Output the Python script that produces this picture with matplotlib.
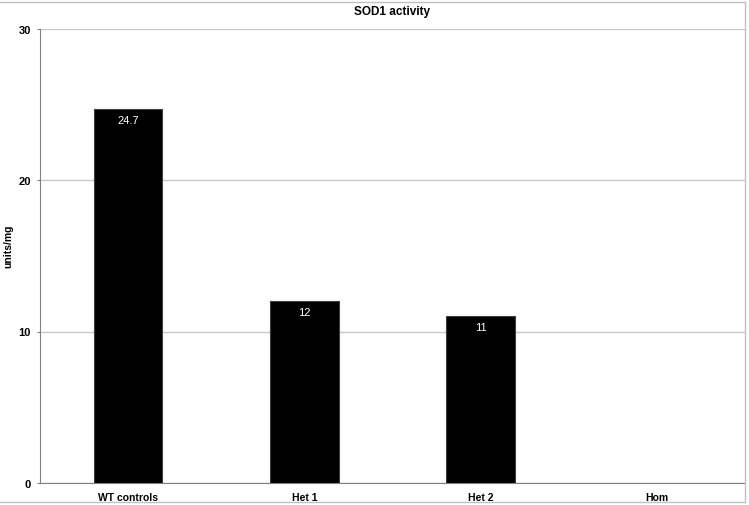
import numpy as np
import matplotlib.pyplot as plt
from matplotlib.lines import Line2D

plt.rcParams['font.family'] = ['Liberation Sans', 'DejaVu Sans']

# data
groups = ["WT controls", "Het 1", "Het 2", "Hom"]
activity = [24.7, 12, 11, 0]
bar_labels = ["24.7", "12", "11", ""]
yticks = [0, 10, 20, 30]

W, H = 749, 506
fig = plt.figure(figsize=(W / 100, H / 100), dpi=100)
ax = fig.add_axes([40 / W, 1 - 484 / H, 705 / W, (484 - 29.5) / H])

x = np.arange(len(groups))
bars = ax.bar(x, activity, width=0.39, color="black", edgecolor="#404040", linewidth=0.8, zorder=3)

for b, lab in zip(bars, bar_labels):
    if b.get_height() == 0:
        b.set_linewidth(0)
    if lab:
        ax.text(b.get_x() + b.get_width() / 2, b.get_height() - 0.4, lab,
                ha="center", va="top", color="white", fontsize=8, zorder=4)

ax.set_xlim(-0.5, len(groups) - 0.5)
ax.set_ylim(0, 30)
ax.set_yticks(yticks)
ax.set_yticklabels([str(t) for t in yticks], fontweight="bold", fontsize=8)
ax.set_xticks(x)
ax.set_xticklabels(groups, fontweight="bold", fontsize=7.5)
ax.tick_params(axis="x", length=0, pad=6.5)
ax.tick_params(axis="y", length=2, color="#808080", pad=4.5)

ax.yaxis.grid(True, color="#c8c8c8", linewidth=1, zorder=0)
ax.set_axisbelow(True)
for s in ["top", "right"]:
    ax.spines[s].set_visible(False)
ax.spines["left"].set_color("#808080")
ax.spines["bottom"].set_color("#808080")

ax.set_ylabel("units/mg", fontweight="bold", fontsize=7.5, va="center")
ax.yaxis.set_label_coords((8 - 40) / 705, (484 - 246) / 454.5)
fig.text((40 + 705 / 2) / W, 1 - 12.5 / H, "SOD1 activity",
         ha="center", va="center", fontweight="bold", fontsize=8.5)

# outer chart frame
for xs, ys in [((0, 745), (3, 3)), ((745, 745), (3, 503)), ((0, 745), (503, 503))]:
    fig.add_artist(Line2D([v / W for v in xs], [1 - v / H for v in ys],
                          color="#c0c0c0", linewidth=1))

fig.savefig("out.png", dpi=100)
